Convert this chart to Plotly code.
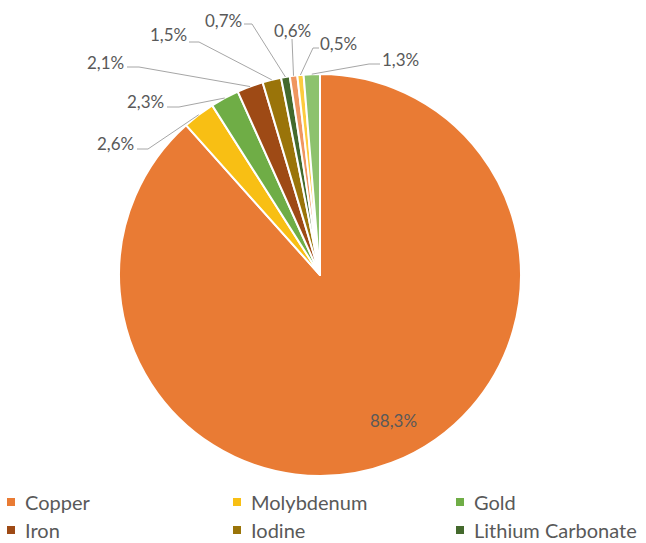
import math
import plotly.graph_objects as go

# Share of mining output by product (%)
labels = ["Copper", "Molybdenum", "Gold", "Iron", "Iodine", "Lithium Carbonate",
          "Silver", "Zinc", "Other"]
values = [88.3, 2.6, 2.3, 2.1, 1.5, 0.7, 0.6, 0.5, 1.3]
colors = ["#E97B34", "#F8BF14", "#6FAD46", "#9E4A15", "#9A7409", "#44692C",
          "#EF9660", "#FDCB3E", "#8DC26D"]
legend_count = 6  # only the first six products are listed below the chart

W, H = 646, 543
CX, CY, R = 320.0, 275.0, 201.0  # pie centre and radius in pixels

# outside label text centre and leader-line start (pixels), per slice
label_pos = [None, (115, 143), (145, 102), (105, 62), (168, 35), (223, 20),
             (292, 31), (338, 43), (401, 60)]
line_start = [None, [(137, 149), (148, 149)], [(167, 107), (179, 107)],
              [(127, 67), (139, 67)], [(189, 42), (199, 42)],
              [(244, 24), (252, 24)], [(292, 39)],
              [(319, 48), (313, 48)], [(380, 64), (369, 64)]]


def px(x):
    return x / W


def py(y):
    return 1 - y / H


def fmt(v):
    return f"{v:.1f}".replace(".", ",") + "%"


fig = go.Figure()
fig.add_trace(go.Pie(
    labels=labels,
    values=values,
    sort=False,
    direction="clockwise",
    rotation=0,
    marker=dict(colors=colors, line=dict(color="white", width=2)),
    textinfo="none",
    hovertemplate="%{label}: %{value}%<extra></extra>",
    showlegend=False,
    domain=dict(x=[px(CX - R), px(CX + R)], y=[py(CY + R), py(CY - R)]),
))

annotations = []
shapes = []
total = sum(values)
cum = 0.0
label_font = dict(family="Lato", size=17, color="#595959")
for i, v in enumerate(values):
    mid = (cum + v / 2) / total * 2 * math.pi
    cum += v
    if i == 0:
        # label of the large slice sits inside it
        annotations.append(dict(x=px(393), y=py(420), xref="paper", yref="paper",
                                xanchor="center", yanchor="middle",
                                text=fmt(v), showarrow=False, font=label_font))
        continue
    ex = CX + R * math.sin(mid)
    ey = CY - R * math.cos(mid)
    pts = line_start[i] + [(ex, ey)]
    path = "M " + " L ".join(f"{px(x)},{py(y)}" for x, y in pts)
    shapes.append(dict(type="path", path=path, xref="paper", yref="paper",
                       line=dict(color="#A6A6A6", width=1)))
    lx, ly = label_pos[i]
    annotations.append(dict(x=px(lx), y=py(ly), xref="paper", yref="paper",
                            xanchor="center", yanchor="middle",
                            text=fmt(v), showarrow=False, font=label_font))

# legend: three columns, two rows
col_x = [11, 237, 460]
row_y = [502, 530]
for k in range(legend_count):
    sx = col_x[k % 3]
    sy = row_y[k // 3]
    shapes.append(dict(type="rect", xref="paper", yref="paper",
                       x0=px(sx - 4), x1=px(sx + 4), y0=py(sy + 4), y1=py(sy - 4),
                       fillcolor=colors[k], line=dict(width=0)))
    annotations.append(dict(x=px(sx + 12), y=py(sy), xref="paper", yref="paper",
                            xanchor="left", yanchor="middle", text=labels[k],
                            showarrow=False,
                            font=dict(family="Lato", size=20, color="#595959")))

fig.update_layout(
    width=W, height=H,
    margin=dict(l=0, r=0, t=0, b=0),
    paper_bgcolor="white",
    plot_bgcolor="white",
    shapes=shapes,
    annotations=annotations,
)

fig.write_html("out.html")
